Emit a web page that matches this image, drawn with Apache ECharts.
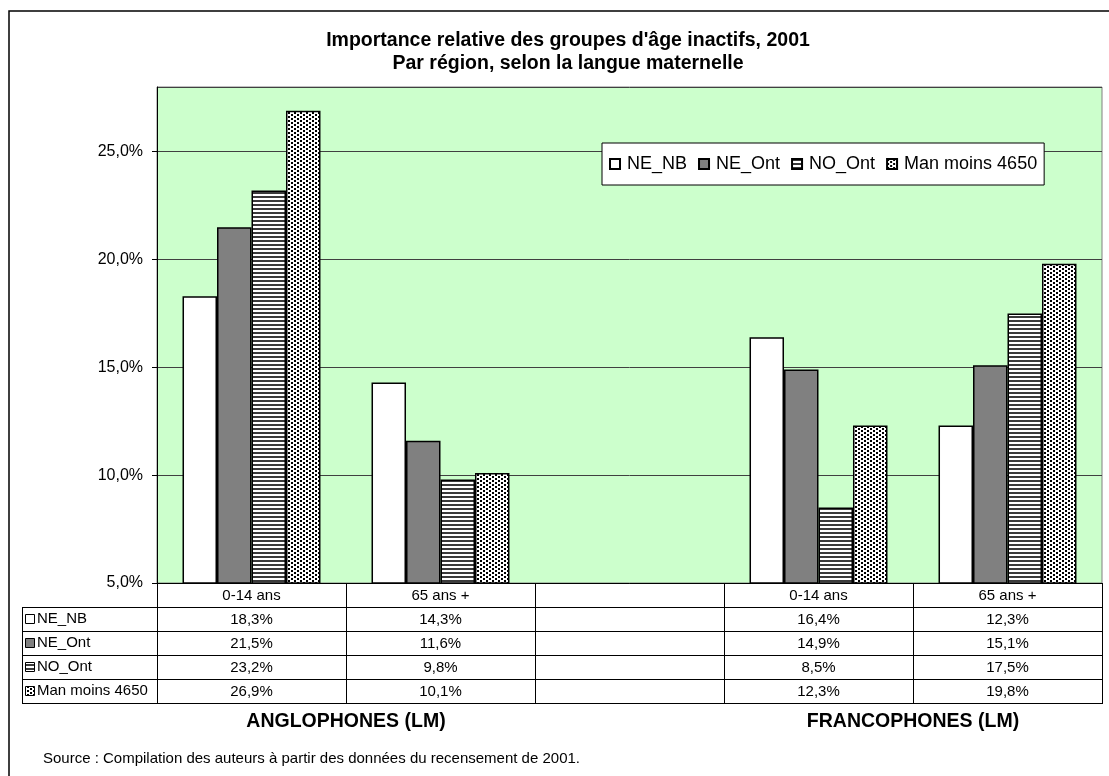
<!DOCTYPE html>
<html><head><meta charset="utf-8">
<script src="https://cdn.jsdelivr.net/npm/echarts@6/dist/echarts.min.js"></script>
<style>html,body{margin:0;padding:0;background:#fff}#c{width:1109px;height:776px}</style>
</head><body><div id="c"></div>
<script>
const titleLines = ["Importance relative des groupes d'âge inactifs, 2001", "Par région, selon la langue maternelle"];
const categories = ['0-14 ans', '65 ans +', '', '0-14 ans', '65 ans +'];
const seriesNames = ['NE_NB', 'NE_Ont', 'NO_Ont', 'Man moins 4650'];
const neNB = [18.3, 14.3, null, 16.4, 12.3];
const neOnt = [21.5, 11.6, null, 14.9, 15.1];
const noOnt = [23.2, 9.8, null, 8.5, 17.5];
const manMoins = [26.9, 10.1, null, 12.3, 19.8];
const groupLabels = ['ANGLOPHONES (LM)', 'FRANCOPHONES (LM)'];
const sourceText = 'Source : Compilation des auteurs à partir des données du recensement de 2001.';
const yMin = 5, yMax = 28, yStep = 5;

const FONT = 'Liberation Sans, Arial, sans-serif';
const allValues = [neNB, neOnt, noOnt, manMoins];

function makePattern(w, h, draw) {
  const c = document.createElement('canvas');
  c.width = w; c.height = h;
  const g = c.getContext('2d');
  g.fillStyle = '#fff'; g.fillRect(0, 0, w, h);
  draw(g);
  return { image: c, repeat: 'repeat' };
}
const stripePat = makePattern(4, 4, g => { g.fillStyle = '#3a3a3a'; g.fillRect(0, 0, 4, 2); });
const dotPat = makePattern(6, 4, g => { g.fillStyle = '#000'; g.fillRect(0, 0, 2, 2); g.fillRect(3, 2, 2, 2); });
const fills = ['#ffffff', '#808080', stripePat, dotPat];

function fmt(v) { return v == null ? '' : v.toFixed(1).replace('.', ',') + '%'; }

const chart = echarts.init(document.getElementById('c'), null, { renderer: 'canvas' });

const option = {
  animation: false,
  backgroundColor: '#fff',
  legend: {
    left: 602, top: 143,
    orient: 'horizontal',
    backgroundColor: '#fff', borderColor: '#000', borderWidth: 1,
    padding: [12, 7, 12, 7],
    itemWidth: 10, itemHeight: 10, itemGap: 11,
    icon: 'rect',
    textStyle: { fontFamily: FONT, fontSize: 18, color: '#000', padding: [0, 0, 0, 2] },
    data: seriesNames
  },
  grid: {
    left: 157, right: 7, top: 87, bottom: 193,
    show: true, backgroundColor: '#ccffcc', borderColor: '#808080', borderWidth: 1
  },
  xAxis: {
    type: 'category', data: categories,
    axisLine: { lineStyle: { color: '#000', width: 1 } },
    axisTick: { show: true, interval: 0, length: 121, lineStyle: { color: '#000', width: 1 } },
    axisLabel: {
      interval: 0, margin: 1, lineHeight: 24, fontSize: 15, fontFamily: FONT, color: '#000',
      formatter: function (v, i) {
        if (!categories[i]) return '';
        return [categories[i]].concat(allValues.map(a => fmt(a[i]))).join('\n');
      }
    }
  },
  yAxis: {
    type: 'value', min: yMin, max: yMax, interval: yStep,
    axisLine: { show: true, lineStyle: { color: '#000', width: 1 } },
    axisTick: { show: true, length: 5, lineStyle: { color: '#000' } },
    axisLabel: {
      showMaxLabel: false, margin: 14, fontSize: 16, fontFamily: FONT, color: '#000',
      formatter: v => (v === yMax ? '' : fmt(v))
    },
    splitLine: { show: true, lineStyle: { color: '#404040', width: 1 } }
  },
  series: allValues.map((d, k) => ({
    type: 'bar', name: seriesNames[k], data: d,
    barGap: '0%', barCategoryGap: '27%',
    itemStyle: { color: fills[k], borderColor: '#000', borderWidth: 1.5 }
  }))
};
chart.setOption(option);

// table borders, left column, group labels, title, frame
const axisY = chart.convertToPixel({ yAxisIndex: 0 }, yMin);
const c0 = chart.convertToPixel({ xAxisIndex: 0 }, 0);
const c1 = chart.convertToPixel({ xAxisIndex: 0 }, 1);
const band = c1 - c0;
const plotL = c0 - band / 2;
const plotR = plotL + band * categories.length;
const rowH = 24;
const tableTop = axisY + rowH;
const tableL = 22;
const gfx = [];
gfx.push({ type: 'rect', shape: { x: 9, y: 11, width: 1200, height: 900 }, style: { fill: null, stroke: '#000', lineWidth: 1.5 }, z: 0, silent: true });
titleLines.forEach((t, i) => gfx.push({ type: 'text', x: 568, y: 41 + i * 23, style: { text: t, font: 'bold 19.5px ' + FONT, fill: '#000', align: 'center', verticalAlign: 'middle' } }));
for (let r = 0; r <= seriesNames.length; r++) {
  const y = Math.round(tableTop + r * rowH) + 0.5;
  gfx.push({ type: 'line', shape: { x1: tableL, y1: y, x2: plotR, y2: y }, style: { stroke: '#000', lineWidth: 1 }, silent: true });
}
gfx.push({ type: 'line', shape: { x1: tableL + 0.5, y1: tableTop, x2: tableL + 0.5, y2: tableTop + rowH * seriesNames.length }, style: { stroke: '#000', lineWidth: 1 }, silent: true });
seriesNames.forEach((n, k) => {
  const yc = tableTop + rowH * k + rowH / 2;
  gfx.push({ type: 'rect', shape: { x: 25.5, y: Math.round(yc - 5) + 0.5, width: 9, height: 9 }, style: { fill: fills[k], stroke: '#000', lineWidth: 1 }, z: 10 });
  gfx.push({ type: 'text', x: 37, y: yc, style: { text: n, font: '15px ' + FONT, fill: '#000', align: 'left', verticalAlign: 'middle' }, z: 10 });
});
[[0, 1], [3, 4]].forEach((pair, g) => {
  const x = plotL + band * (pair[0] + 1);
  gfx.push({ type: 'text', x: x, y: 722, style: { text: groupLabels[g], font: 'bold 19.5px ' + FONT, fill: '#000', align: 'center', verticalAlign: 'middle' } });
});
gfx.push({ type: 'text', x: 43, y: 759, style: { text: sourceText, font: '15px ' + FONT, fill: '#000', align: 'left', verticalAlign: 'middle' } });
chart.setOption({ graphic: gfx });
</script>
</body></html>
